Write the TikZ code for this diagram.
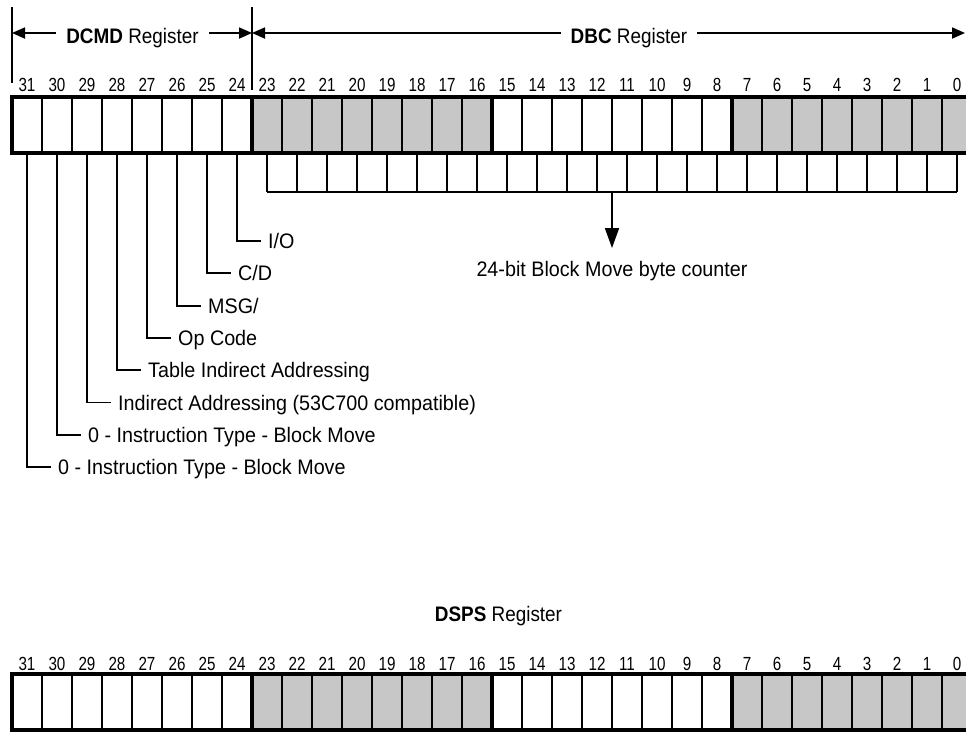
\documentclass[tikz,border=0pt]{standalone}
\usepackage{fontspec}
\setmainfont{Liberation Sans}
\newfontfamily\digitfont[FakeStretch=0.8]{Liberation Sans}
\newfontfamily\labfont[FakeStretch=0.94]{Liberation Sans}
\newfontfamily\headfont[FakeStretch=0.9]{Liberation Sans}
\usetikzlibrary{arrows.meta}
\begin{document}
\begin{tikzpicture}[x=1pt,y=-1pt,
  cell/.style={draw, line width=1.8pt, minimum width=30pt, minimum height=56pt, inner sep=0pt, outer sep=0pt},
  border/.style={line width=3.2pt},
  bitnum/.style={font=\digitfont\fontsize{19}{19}\selectfont, anchor=base, inner sep=0pt},
  lab/.style={font=\labfont\fontsize{21}{25}\selectfont, anchor=west, text height=15pt, text depth=0pt, inner sep=0pt},
  head/.style={font=\headfont\fontsize{21}{25}\selectfont, anchor=base, text height=15pt, text depth=0pt, inner xsep=10pt, inner ysep=0pt},
  conn/.style={line width=1.8pt},
  arr/.style={line width=1.8pt, -{Triangle[length=13pt,width=11pt]}},
  bigarr/.style={line width=1.8pt, -{Triangle[length=20pt,width=14pt]}},
]
\useasboundingbox (0,0) rectangle (966,732);

% ---- cells and bit numbers ----
\foreach \b in {0,...,31}{
  \pgfmathsetmacro{\cx}{27+(31-\b)*30}
  \pgfmathtruncatemacro{\sh}{(\b<8)||((\b>15)&&(\b<24))}
  \ifnum\sh=1 \def\fc{black!22}\else\def\fc{white}\fi
  \node[cell, fill=\fc] (t\b) at (\cx,125) {};
  \node[bitnum] (n\b) at (\cx,91) {\b};
  \node[cell, fill=\fc] (d\b) at (\cx,702) {};
  \node[bitnum] (m\b) at (\cx,670) {\b};
}
% thick borders and byte separators
\draw[border] (t31.north west) rectangle (t0.south east);
\draw[border] (d31.north west) rectangle (d0.south east);
\foreach \b in {24,16,8}{
  \draw[border] (t\b.north east) -- (t\b.south east);
  \draw[border] (d\b.north east) -- (d\b.south east);
}

% ---- header ----
\coordinate (vlt) at (12,7);
\coordinate (vlb) at (12,83);
\coordinate (vmt) at (252,7);
\coordinate (vmb) at (252,90);
\coordinate (vl) at (12,33);
\coordinate (vm) at (252,33);
\coordinate (vr) at (965,33);
\draw[conn] (vlt) -- (vlb);
\draw[conn] (vmt) -- (vmb);
\node[head] (dcmd) at (132.5,43) {\textbf{DCMD} Register};
\node[head] (dbc) at (629,43) {\textbf{DBC} Register};
\draw[arr] (dcmd.west |- vl) -- (vl);
\draw[arr] (dcmd.east |- vl) -- (vm);
\draw[arr] (dbc.west |- vm) -- (vm);
\draw[arr] (dbc.east |- vr) -- (vr);

% ---- DBC counter row ----
\foreach \b in {0,...,23}{
  \pgfmathsetmacro{\cx}{27+(31-\b)*30}
  \coordinate (k\b) at (\cx,192);
  \draw[conn] (t\b.south) -- (k\b);
}
\draw[conn] (k23) -- (k0);
\path (k12) -- (k11) coordinate[midway] (kmid);
\node[lab, anchor=north, inner ysep=13pt] (cnt) at (612,248) {24-bit Block Move byte counter};
\draw[bigarr] (kmid) -- (cnt.north);

% ---- DCMD bit labels ----
\foreach \b/\ly in {24/241,25/273.3,26/305.6,27/337.9,28/370.2,29/402.5,30/434.8,31/467.1}{
  \pgfmathsetmacro{\cx}{27+(31-\b)*30}
  \coordinate (e\b) at (\cx+24,\ly);
  \coordinate (p\b) at (\cx+31,\ly);
  \draw[conn] (t\b.south) |- (e\b);
}
\node[lab] (l24) at (p24) {I/O};
\node[lab] (l25) at (p25) {C/D};
\node[lab] (l26) at (p26) {MSG/};
\node[lab] (l27) at (p27) {Op Code};
\node[lab] (l28) at (p28) {Table Indirect Addressing};
\node[lab] (l29) at (p29) {Indirect Addressing (53C700 compatible)};
\node[lab] (l30) at (p30) {0 - Instruction Type - Block Move};
\node[lab] (l31) at (p31) {0 - Instruction Type - Block Move};

% ---- DSPS title ----
\node[head] (dsps) at (498.5,621.7) {\textbf{DSPS} Register};
\end{tikzpicture}
\end{document}
